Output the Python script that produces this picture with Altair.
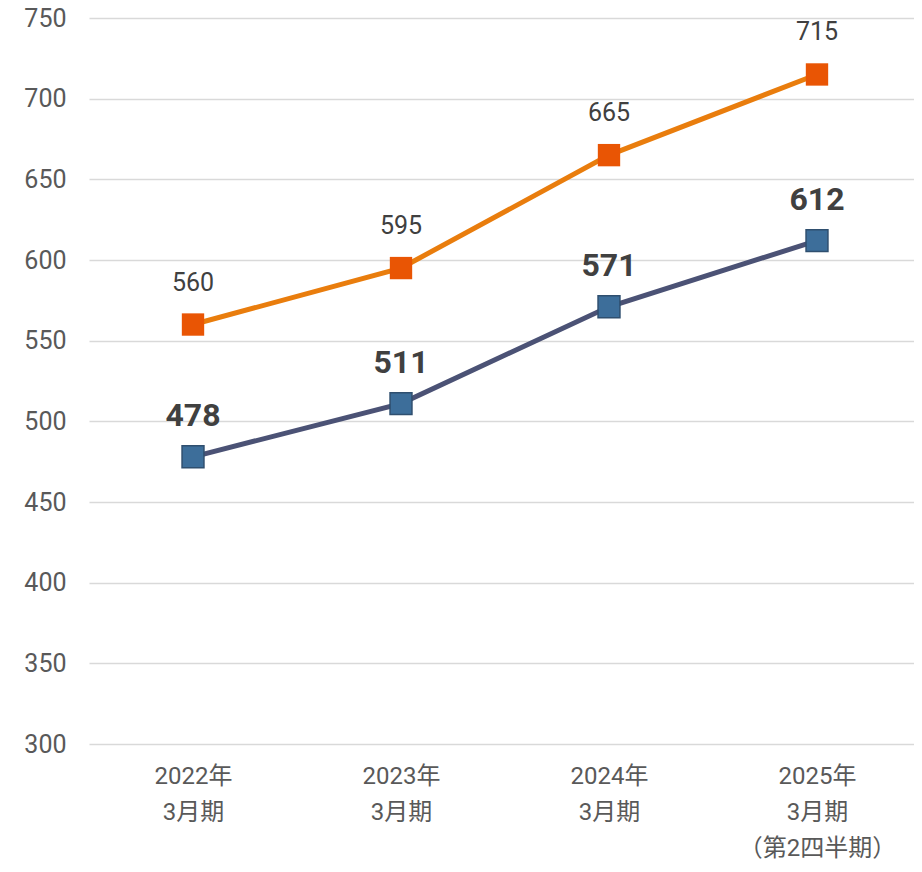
import altair as alt
import pandas as pd

categories = ["2022年\n3月期", "2023年\n3月期", "2024年\n3月期", "2025年\n3月期\n（第2四半期）"]
series_a = [560, 595, 665, 715]   # orange
series_b = [478, 511, 571, 612]   # blue

df_a = pd.DataFrame({"cat": categories, "v": series_a})
df_b = pd.DataFrame({"cat": categories, "v": series_b})

FONT = "Roboto, 'Noto Sans CJK JP', sans-serif"

x = alt.X("cat:N", sort=categories, title=None,
          scale=alt.Scale(type="point", padding=0.4832, align=0.5174),
          axis=alt.Axis(labelExpr="split(datum.label, '\\n')", labelAngle=0,
                        labelFontSize=24, labelColor="#595959", labelFont=FONT,
                        labelLineHeight=36, labelPadding=20, ticks=False, domain=False,
                        grid=False, labelBaseline="top"))
y = alt.Y("v:Q", title=None,
          scale=alt.Scale(domain=[300, 750], nice=False, zero=False),
          axis=alt.Axis(values=list(range(300, 751, 50)), labelFontSize=25,
                        labelColor="#595959", labelFont=FONT, labelPadding=23,
                        ticks=False, domain=False, gridColor="#D9D9D9", gridWidth=1.5))

line_a = alt.Chart(df_a).mark_line(color="#E97D0D", strokeWidth=5).encode(x=x, y=y)
pts_a = alt.Chart(df_a).mark_point(shape="square", filled=True, size=500, color="#E95504", opacity=1).encode(x=x, y=y)
lab_a = alt.Chart(df_a).mark_text(dy=-42, fontSize=25, color="#404040", font=FONT).encode(x=x, y=y, text="v:Q")

line_b = alt.Chart(df_b).mark_line(color="#4B5275", strokeWidth=5).encode(x=x, y=y)
pts_b = alt.Chart(df_b).mark_point(shape="square", filled=True, size=480, color="#3D6E9A",
                                   stroke="#2F4F6F", strokeWidth=1.5, opacity=1).encode(x=x, y=y)
lab_b = alt.Chart(df_b).mark_text(dy=-41, fontSize=32, fontWeight="bold", color="#404040", font=FONT).encode(x=x, y=y, text="v:Q")

chart = alt.layer(line_a, line_b, pts_a, pts_b, lab_a, lab_b).properties(
    width=825, height=726,
    autosize=alt.AutoSizeParams(type="none"),
    padding={"left": 81, "top": 10, "right": 0, "bottom": 120},
).configure_view(stroke=None)

chart.save("out.html", embed_options={"renderer": "svg", "actions": False})
